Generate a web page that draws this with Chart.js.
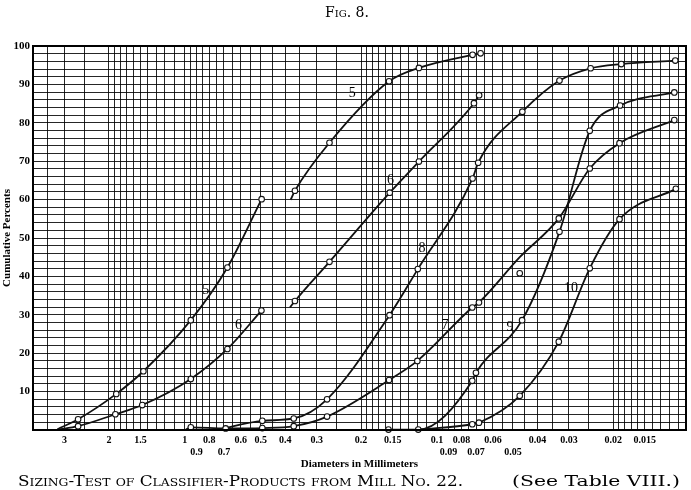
<!DOCTYPE html>
<html><head><meta charset="utf-8">
<script src="https://cdn.jsdelivr.net/npm/chart.js@4/dist/chart.umd.min.js"></script>
<style>html,body{margin:0;padding:0;background:#fff}#wrap{width:691px;height:490px;position:relative}</style>
</head><body><div id="wrap"><canvas id="c" width="691" height="490"></canvas></div>
<script>
// ---------- texts ----------
const figTitle = 'Fig. 8.';
const captionMain = 'Sizing-Test of Classifier-Products from Mill No. 22.';
const captionRef = '(See Table VIII.)';
const xAxisTitle = 'Diameters in Millimeters';
const yAxisTitle = 'Cumulative Percents';

// ---------- tick labels ----------
const xTicksRow1 = [3, 2, 1.5, 1, 0.8, 0.6, 0.5, 0.4, 0.3, 0.2, 0.15, 0.1, 0.08, 0.06, 0.04, 0.03, 0.02, 0.015];
const xTicksRow2 = [0.9, 0.7, 0.09, 0.07, 0.05];
const yTickLabels = [10, 20, 30, 40, 50, 60, 70, 80, 90, 100];

// ---------- series (diameter mm, cumulative %) ----------
// kind: 1 = point on the curve with a circle, 0 = curve point without circle, 2 = circle off the curve
const c5aX = [3.2, 2.65, 1.87, 1.46, 0.947, 0.678, 0.496];
const c5aY = [0.2, 2.8, 9.4, 15.3, 28.6, 42.3, 60.1];
const c5aK = [0, 1, 1, 1, 1, 1, 1];

const c5bX = [0.381, 0.366, 0.267, 0.155, 0.118, 0.0723, 0.0672];
const c5bY = [59.9, 62.3, 74.8, 90.8, 94.3, 97.7, 98.1];
const c5bK = [0, 1, 1, 1, 1, 1, 1];

const c6aX = [3.2, 2.65, 1.886, 1.475, 0.947, 0.678, 0.497];
const c6aY = [0.1, 1.0, 4.1, 6.5, 13.3, 21.1, 31.1];
const c6aK = [0, 1, 1, 1, 1, 1, 1];

const c6bX = [0.383, 0.366, 0.267, 0.154, 0.118, 0.0714, 0.0681];
const c6bY = [31.9, 33.6, 43.8, 61.8, 69.9, 85.1, 87.2];
const c6bK = [0, 1, 1, 1, 1, 1, 1];

const c7X = [1.0, 0.947, 0.689, 0.493, 0.370, 0.273, 0.155, 0.1197, 0.0725, 0.0682, 0.047, 0.047, 0.0329, 0.0248, 0.0189, 0.01146];
const c7Y = [0.0, 0.7, 0.4, 0.5, 1.0, 3.5, 13.0, 18.0, 31.9, 33.2, 45.0, 40.8, 55.1, 68.1, 74.7, 80.7];
const c7K = [0, 1, 1, 1, 1, 1, 1, 1, 1, 1, 0, 2, 1, 1, 1, 1];

const c8X = [0.75, 0.493, 0.370, 0.273, 0.1543, 0.1192, 0.0723, 0.0687, 0.0459, 0.0327, 0.0246, 0.0186, 0.01136];
const c8Y = [0.0, 2.4, 3.0, 8.0, 29.9, 41.9, 65.5, 69.6, 82.9, 91.0, 94.2, 95.3, 96.2];
const c8K = [0, 1, 1, 1, 1, 1, 1, 1, 1, 1, 1, 1, 1];

const c9X = [0.1558, 0.1187, 0.0725, 0.0701, 0.046, 0.0327, 0.0248, 0.0188, 0.01146];
const c9Y = [0.1, 0.1, 12.8, 14.9, 28.6, 51.6, 77.9, 84.5, 87.9];
const c9K = [1, 1, 1, 1, 1, 1, 1, 1, 1];

const c10X = [0.118, 0.0725, 0.0682, 0.047, 0.0329, 0.0248, 0.0189, 0.0113];
const c10Y = [0.1, 1.5, 1.9, 8.9, 23.0, 42.1, 54.9, 62.8];
const c10K = [0, 1, 1, 1, 1, 1, 1, 1];

// curve number labels: text, diameter, percent
const curveLabelText = ['5', '6', '5', '6', '8', '7', '9', '10'];
const curveLabelX = [0.826, 0.612, 0.217, 0.153, 0.1147, 0.0929, 0.0514, 0.0294];
const curveLabelY = [36.5, 27.3, 87.7, 65.1, 47.4, 27.3, 26.8, 37.0];

// ---------- build ----------
const curves = [
  [c5aX, c5aY, c5aK], [c5bX, c5bY, c5bK], [c6aX, c6aY, c6aK], [c6bX, c6bY, c6bK],
  [c7X, c7Y, c7K], [c8X, c8Y, c8K], [c9X, c9Y, c9K], [c10X, c10Y, c10K]
];
const lineSets = [], looseMarks = [];
curves.forEach(([xs, ys, ks]) => {
  const d = [];
  xs.forEach((x, i) => {
    if (ks[i] === 2) looseMarks.push({ x: x, y: ys[i] });
    else d.push({ x: x, y: ys[i], m: ks[i] });
  });
  lineSets.push(d);
});

// graph-paper rulings of the log axis
const gridVals = [];
[1, 0.1, 0.01].forEach(b => {
  for (let i = 10; i <= 20; i++) gridVals.push(+(i * b / 10).toPrecision(6));
  for (let i = 5; i <= 20; i++) gridVals.push(+(i * b / 2).toPrecision(6));
});
const xMin = 0.0103, xMax = 4;
const gridList = Array.from(new Set(gridVals)).filter(v => v >= xMin && v <= xMax).sort((a, b) => a - b);

const near = (a, b) => Math.abs(a - b) / b < 1e-6;
const serif = "'Liberation Serif', 'DejaVu Serif', serif";
const wideSerif = "'DejaVu Serif', 'Liberation Serif', serif";

function fitText(ctx, text, x, y, width) {
  const w = ctx.measureText(text).width;
  ctx.save();
  ctx.translate(x, y);
  ctx.scale(width / w, 1);
  ctx.textAlign = 'left';
  ctx.fillText(text, 0, 0);
  ctx.restore();
}

const decor = {
  id: 'decor',
  beforeDraw(chart) {
    const ctx = chart.ctx;
    ctx.save(); ctx.fillStyle = '#fff'; ctx.fillRect(0, 0, chart.width, chart.height); ctx.restore();
  },
  afterDatasetsDraw(chart) {
    const ctx = chart.ctx, xs = chart.scales.x, ys = chart.scales.y;
    ctx.save();
    ctx.fillStyle = '#000';
    ctx.font = "14px " + serif;
    ctx.textAlign = 'center'; ctx.textBaseline = 'middle';
    curveLabelText.forEach((t, i) => {
      ctx.fillText(t, xs.getPixelForValue(curveLabelX[i]), ys.getPixelForValue(curveLabelY[i]));
    });
    ctx.restore();
  },
  afterDraw(chart) {
    const ctx = chart.ctx, a = chart.chartArea;
    ctx.save();
    ctx.strokeStyle = '#000'; ctx.lineWidth = 2;
    ctx.strokeRect(a.left, a.top, a.right - a.left, a.bottom - a.top);
    ctx.fillStyle = '#000';
    ctx.textBaseline = 'alphabetic';
    ctx.textAlign = 'center';
    ctx.font = "small-caps 14px " + wideSerif;
    ctx.fillText(figTitle, 347, 17);
    ctx.font = "small-caps 15px " + wideSerif;
    fitText(ctx, captionMain, 18, 486, 445);
    ctx.font = "15px " + wideSerif;
    fitText(ctx, captionRef, 512, 486, 168);
    ctx.restore();
  }
};

new Chart(document.getElementById('c'), {
  type: 'line',
  data: {
    datasets: lineSets.map(d => ({
      data: d,
      borderColor: '#111',
      borderWidth: 1.8,
      fill: false,
      cubicInterpolationMode: 'monotone',
      pointRadius: c => (c.raw && c.raw.m) ? 2.8 : 0,
      pointHoverRadius: 0,
      pointBackgroundColor: '#fff',
      pointBorderColor: '#111',
      pointBorderWidth: 1.1,
      clip: false
    })).concat([{
      data: looseMarks,
      showLine: false,
      pointRadius: 2.8,
      pointHoverRadius: 0,
      pointBackgroundColor: '#fff',
      pointBorderColor: '#111',
      pointBorderWidth: 1.1,
      clip: false
    }])
  },
  options: {
    responsive: false,
    animation: false,
    devicePixelRatio: 1,
    layout: { padding: { top: 46, right: 5, bottom: 18, left: 0 } },
    plugins: { legend: { display: false }, tooltip: { enabled: false }, title: { display: false } },
    scales: {
      x: {
        type: 'logarithmic', reverse: true, min: xMin, max: xMax,
        afterBuildTicks: s => { s.ticks = gridList.map(v => ({ value: v })); },
        afterFit: s => { s.height = 42; },
        grid: { color: 'rgba(0,0,0,0.85)', lineWidth: 1, drawTicks: false },
        border: { display: true, color: '#000', width: 2 },
        ticks: {
          autoSkip: false, maxRotation: 0, minRotation: 0, padding: 4, color: '#000',
          font: { family: serif, size: 10, weight: 'bold' }, lineHeight: 1.15,
          callback: v => {
            if (xTicksRow1.some(t => near(v, t))) return String(v);
            if (xTicksRow2.some(t => near(v, t))) return ['', String(v)];
            return '';
          }
        },
        title: { display: true, text: xAxisTitle, color: '#000', font: { family: serif, size: 11, weight: 'bold' }, padding: { top: 0, bottom: 1 } }
      },
      y: {
        type: 'linear', min: 0, max: 100,
        afterFit: s => { s.width = 33; },
        grid: { color: 'rgba(0,0,0,0.85)', lineWidth: 1, drawTicks: false },
        border: { display: true, color: '#000', width: 2 },
        ticks: {
          stepSize: 2, autoSkip: false, padding: 3, color: '#000',
          font: { family: serif, size: 11, weight: 'bold' },
          callback: v => yTickLabels.includes(v) ? String(v) : ''
        },
        title: { display: true, text: yAxisTitle, color: '#000', font: { family: serif, size: 11, weight: 'bold' }, padding: { top: 1, bottom: 0 } }
      }
    }
  },
  plugins: [decor]
});
</script></body></html>
